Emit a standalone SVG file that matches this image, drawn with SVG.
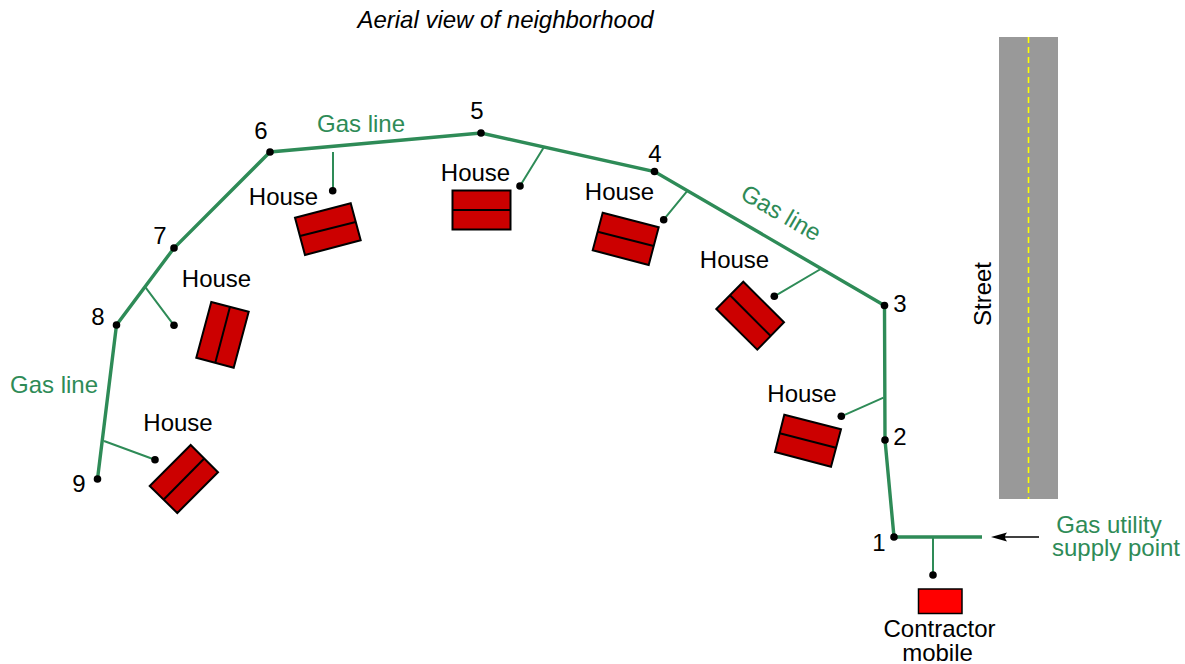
<svg xmlns="http://www.w3.org/2000/svg" width="1185" height="664" viewBox="0 0 1185 664">
<style>
text{font-family:"Liberation Sans",Arial,sans-serif;font-size:24px;fill:#000}
.g{fill:#2e8b57}
.m{text-anchor:middle}
.main{fill:none;stroke:#2e8b57;stroke-width:3.4;stroke-linejoin:miter}
.br{fill:none;stroke:#2e8b57;stroke-width:2}
.h{fill:#cc0000;stroke:#000;stroke-width:2}
.l{stroke:#000;stroke-width:2;fill:none}
</style>
<defs>
<circle id="d" r="3.8" fill="#000"/>
<marker id="a" markerUnits="userSpaceOnUse" markerWidth="16" markerHeight="10" refX="12" refY="5" orient="auto"><path d="M16 5L0 0.500Q4 5 0 9.500Z" fill="#000"/></marker>
</defs>
<g id="street">
<rect x="999" y="37" width="59" height="462" fill="#999"/>
<line x1="1028.500" y1="37" x2="1028.500" y2="499" stroke="#ffff00" stroke-width="1.600" stroke-dasharray="6 4"/>
</g>
<g id="connectors">
<path class="main" d="M97.500 479L116.500 325L174 248L270 152L481 133L654.500 171.500L884.500 305.500L885 440L894 537L982 537"/>
<path class="br" d="M104 441L155 459.700M145.700 287.700L174 325.300M333 152V190.700M544 147L520 186M686.700 191.700L663.700 219.700M820.700 269L774.300 296.300M883.500 397.700L841.300 416.300M933 537V575"/>
<line x1="1039" y1="537" x2="995" y2="537" stroke="#000" stroke-width="1.600" marker-end="url(#a)"/>
<use href="#d" x="894" y="537"/><use href="#d" x="885" y="440"/><use href="#d" x="884.500" y="305.500"/><use href="#d" x="654.500" y="171.500"/><use href="#d" x="481" y="133"/><use href="#d" x="270" y="152"/><use href="#d" x="174" y="248"/><use href="#d" x="116.500" y="325"/><use href="#d" x="97.500" y="479"/>
<use href="#d" x="155" y="459.700"/><use href="#d" x="174" y="325.300"/><use href="#d" x="332.700" y="190.700"/><use href="#d" x="520" y="186"/><use href="#d" x="663.700" y="219.700"/><use href="#d" x="774.300" y="296.300"/><use href="#d" x="841.300" y="416.300"/><use href="#d" x="933" y="575"/>
</g>
<g id="house-9"><polygon class="h" points="190.700,445 218,472.300 177.300,513 149.700,486"/><line class="l" x1="204" y1="458.700" x2="164" y2="499.300"/><text class="m" x="178" y="431">House</text></g>
<g id="house-8"><polygon class="h" points="211.300,302 248.700,311.700 233.700,367.700 196.300,357.700"/><line class="l" x1="230" y1="306.700" x2="215.300" y2="362.700"/><text class="m" x="216.500" y="286.500">House</text></g>
<g id="house-6"><polygon class="h" points="295,217.700 350.700,203.300 360.700,240.300 305,255"/><line class="l" x1="300" y1="236" x2="355.700" y2="222"/><text class="m" x="283.500" y="205">House</text></g>
<g id="house-5"><rect class="h" x="452.500" y="190.500" width="58" height="39"/><line class="l" x1="452.500" y1="210" x2="510.500" y2="210"/><text class="m" x="475.500" y="181">House</text></g>
<g id="house-4"><polygon class="h" points="602.700,212.700 658.700,227.300 648.700,265 592.700,250.300"/><line class="l" x1="597.700" y1="231.700" x2="653.700" y2="246"/><text class="m" x="619.500" y="200">House</text></g>
<g id="house-3"><polygon class="h" points="743.300,281.700 784,322.300 757.300,349.700 716.300,309"/><line class="l" x1="730" y1="295.300" x2="770.700" y2="336"/><text class="m" x="734.500" y="268">House</text></g>
<g id="house-2"><polygon class="h" points="784.300,414.700 841,429.300 831,466.700 775,452"/><line class="l" x1="779.700" y1="433.300" x2="836" y2="447.700"/><text class="m" x="802" y="402">House</text></g>
<g id="contractor"><rect x="918.500" y="589" width="43.500" height="24.500" fill="#ff0000" stroke="#000" stroke-width="1.500"/><text class="m" x="939.500" y="637">Contractor</text><text class="m" x="937.500" y="661">mobile</text></g>
<g id="labels">
<text class="m" x="505.500" y="28" font-style="italic">Aerial view of neighborhood</text>
<text class="g m" x="361" y="132">Gas line</text>
<text class="g m" x="54" y="393">Gas line</text>
<text class="g m" transform="translate(777 220) rotate(30)">Gas line</text>
<text class="g m" x="1109" y="533">Gas utility</text>
<text class="g m" x="1116" y="556">supply point</text>
<text class="m" transform="translate(990.500 294) rotate(-90)">Street</text>
<text class="m" x="879" y="551">1</text>
<text class="m" x="900" y="445">2</text>
<text class="m" x="900" y="312">3</text>
<text class="m" x="655" y="162">4</text>
<text class="m" x="477" y="119">5</text>
<text class="m" x="261" y="139">6</text>
<text class="m" x="160" y="244">7</text>
<text class="m" x="98" y="325">8</text>
<text class="m" x="79" y="492">9</text>
</g>
</svg>
